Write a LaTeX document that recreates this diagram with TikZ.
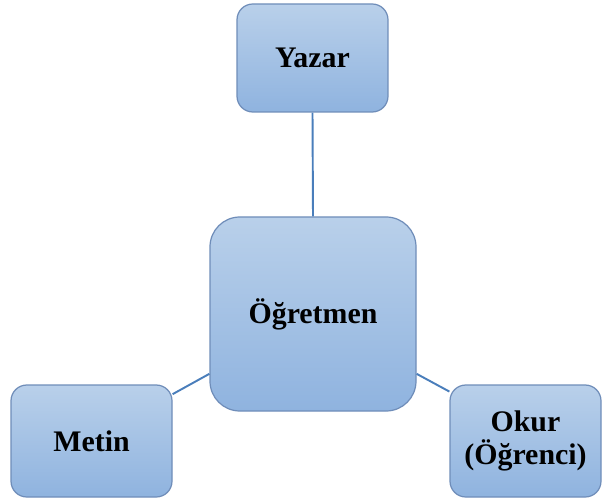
\documentclass[tikz,border=0pt]{standalone}
\usepackage{fontspec}
\setmainfont{Liberation Serif}
\definecolor{boxtop}{HTML}{B9D0EA}
\definecolor{boxbottom}{HTML}{8FB3DF}
\definecolor{boxedge}{HTML}{6F8DB9}
\definecolor{linkblue}{HTML}{4A7EBB}
\tikzset{
    rolebox/.style={draw=boxedge, line width=0.7pt, top color=boxtop, bottom color=boxbottom,
        font=\fontsize{17}{19}\selectfont\bfseries, align=center, inner sep=0pt},
    link/.style={draw=linkblue, line width=1.1pt}
}
\begin{document}
\begin{tikzpicture}[x=0.02cm, y=-0.02cm]
    \useasboundingbox (0,0) rectangle (609,500);

    % Boxes
    \node[rolebox, rounded corners=9pt, minimum width=151*0.02cm, minimum height=108*0.02cm] (yazar) at (312.5, 58) {Yazar};
    \node[rolebox, rounded corners=17pt, minimum width=206*0.02cm, minimum height=194*0.02cm] (ogretmen) at (313, 314) {Öğretmen};
    \node[rolebox, rounded corners=9pt, minimum width=161*0.02cm, minimum height=112*0.02cm] (metin) at (91.5, 441) {Metin};
    \node[rolebox, rounded corners=9pt, minimum width=151*0.02cm, minimum height=112*0.02cm] (okur) at (525.5, 441) {Okur\\(Öğrenci)};

    % Links
    \draw[link] (yazar.south) -- (ogretmen.north);
    \draw[link] (metin.30) -- (ogretmen.210);
    \draw[link] (okur.147) -- (ogretmen.330);
\end{tikzpicture}
\end{document}
